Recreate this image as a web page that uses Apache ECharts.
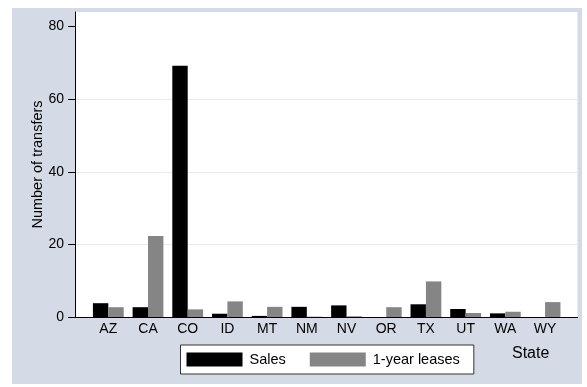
<!DOCTYPE html>
<html>
<head>
<meta charset="utf-8">
<script src="https://cdn.jsdelivr.net/npm/echarts@6/dist/echarts.min.js"></script>
<style>
  html, body { margin: 0; padding: 0; background: #ffffff; }
  #chart { width: 587px; height: 387px; }
</style>
</head>
<body>
<div id="chart"></div>
<script>
const states = ['AZ', 'CA', 'CO', 'ID', 'MT', 'NM', 'NV', 'OR', 'TX', 'UT', 'WA', 'WY'];
const sales = [3.8, 2.7, 69.2, 0.9, 0.3, 2.8, 3.2, 0, 3.5, 2.2, 1.0, 0];
const leases = [2.7, 22.3, 2.1, 4.3, 2.8, 0.1, 0.2, 2.7, 9.8, 1.1, 1.45, 4.1];
const yTicks = [0, 20, 40, 60, 80];
const seriesNames = ['Sales', '1-year leases'];
const yTitle = 'Number of transfers';
const xTitle = 'State';

const FONT = 'Liberation Sans, Arial, Helvetica, sans-serif';
const chart = echarts.init(document.getElementById('chart'), null, { renderer: 'canvas' });

chart.setOption({
  animation: false,
  backgroundColor: '#ffffff',
  textStyle: { fontFamily: FONT },
  graphic: [
    {
      type: 'rect', z: -10, silent: true,
      shape: { x: 12, y: 8, width: 570, height: 376 },
      style: { fill: '#d5dbe6' }
    },
    {
      type: 'text', z: 10, silent: true,
      left: 512, top: 346,
      style: { text: xTitle, font: '16px ' + FONT, fill: '#000' }
    }
  ],
  legend: {
    data: seriesNames,
    left: 180.5, top: 345,
    orient: 'horizontal',
    backgroundColor: '#ffffff',
    borderColor: '#333333',
    borderWidth: 1,
    borderRadius: 0,
    padding: [7, 14, 7, 6],
    itemWidth: 56, itemHeight: 14, itemGap: 24,
    icon: 'rect',
    textStyle: { fontSize: 14.5, color: '#000', fontFamily: FONT, padding: [0, 0, 0, 2] }
  },
  grid: [
    { left: 75, right: 9.5, top: 12, bottom: 70, show: true, backgroundColor: '#ffffff', borderWidth: 0 },
    { left: 88.45, right: 22.1, top: 12, bottom: 70 }
  ],
  xAxis: [
    {
      gridIndex: 0, type: 'category', data: [''],
      axisLine: { show: true, lineStyle: { color: '#000', width: 1 } },
      axisTick: { show: false }, axisLabel: { show: false }, splitLine: { show: false }
    },
    {
      gridIndex: 1, type: 'category', data: states,
      axisLine: { show: false }, axisTick: { show: false },
      axisLabel: { fontSize: 14, color: '#000', margin: 5, fontFamily: FONT },
      splitLine: { show: false }
    }
  ],
  yAxis: [
    {
      gridIndex: 0, type: 'value', min: 0, max: 84, interval: 20,
      name: yTitle, nameLocation: 'middle', nameGap: 30, nameMoveOverlap: false,
      nameTextStyle: { fontSize: 14.5, color: '#000', fontFamily: FONT },
      axisLine: { show: true, lineStyle: { color: '#000', width: 1 } },
      axisTick: { show: true, inside: false, length: 7, lineStyle: { color: '#000' }, customValues: yTicks },
      axisLabel: { fontSize: 14, color: '#000', margin: 11, fontFamily: FONT, customValues: yTicks },
      splitLine: { show: true, showMaxLine: false, lineStyle: { color: '#e6edf1', width: 1 } }
    },
    {
      gridIndex: 1, type: 'value', min: 0, max: 84, show: false,
      splitLine: { show: false }
    }
  ],
  series: [
    {
      name: seriesNames[0], type: 'bar', xAxisIndex: 1, yAxisIndex: 1,
      data: sales, barWidth: 15.4, barGap: '0%',
      itemStyle: { color: '#000000' }
    },
    {
      name: seriesNames[1], type: 'bar', xAxisIndex: 1, yAxisIndex: 1,
      data: leases, barWidth: 15.4, barGap: '0%',
      itemStyle: { color: '#858585' }
    }
  ]
});
</script>
</body>
</html>
